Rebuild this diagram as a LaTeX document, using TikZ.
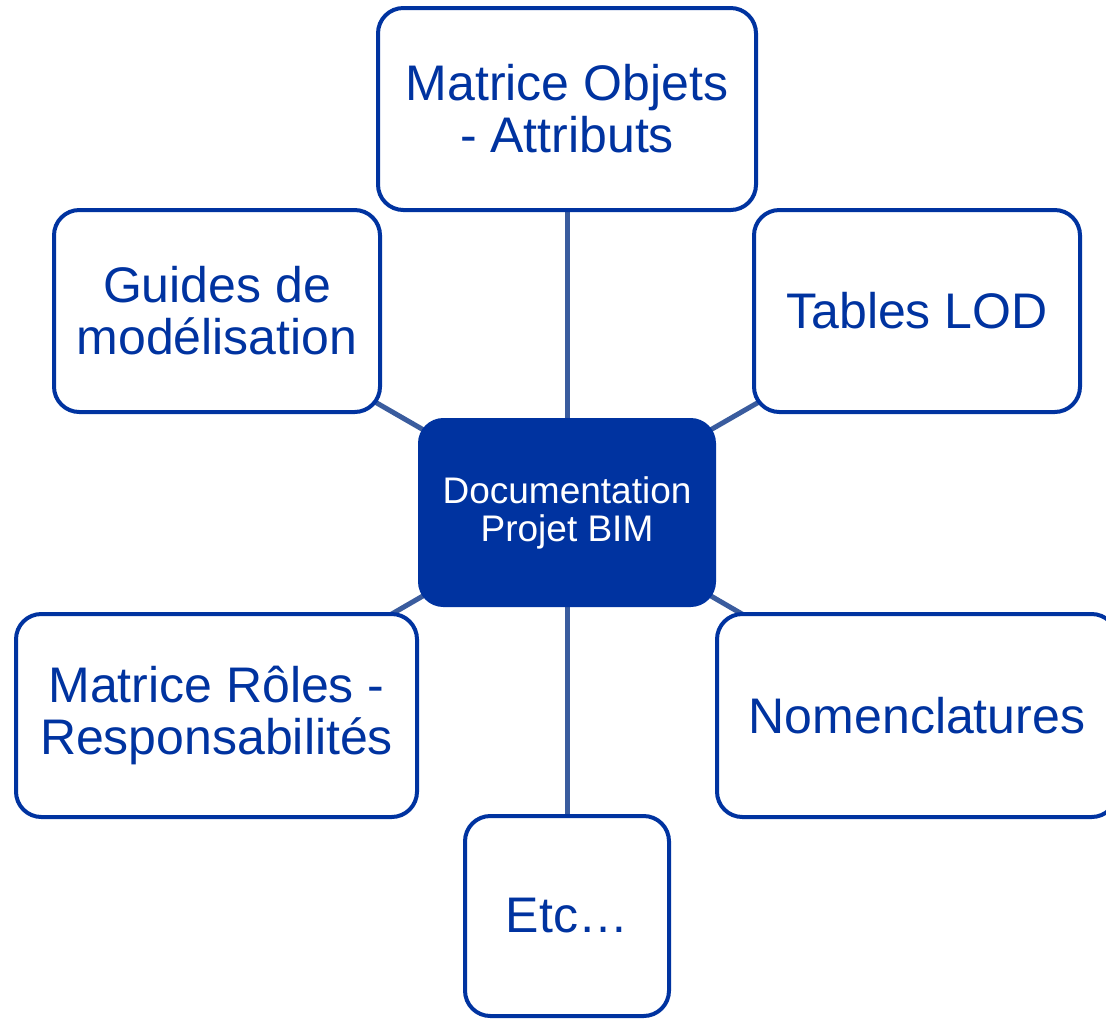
\documentclass[tikz,border=0pt]{standalone}
\usepackage{fontspec}
\setmainfont{Liberation Sans}
\usetikzlibrary{backgrounds}
\definecolor{bimblue}{RGB}{0,51,160}
\definecolor{linkblue}{RGB}{58,92,158}
\tikzset{
  leaf/.style={draw=bimblue, line width=3pt, fill=white, rounded corners=19pt,
    inner sep=0pt, align=center, text=bimblue,
    font=\fontsize{37.5}{39}\selectfont},
  hub/.style={fill=bimblue, rounded corners=19pt, inner sep=0pt, align=center,
    text=white, font=\fontsize{27.75}{28.5}\selectfont},
  link/.style={draw=linkblue, line width=3.75pt}
}
\begin{document}
\begin{tikzpicture}[x=0.75pt, y=-0.75pt]
\useasboundingbox (0,0) rectangle (1106,1018);
\node[hub, minimum width={298*0.75pt}, minimum height={189*0.75pt}] (c) at (567,512.5) {Documentation\\Projet BIM};
\node[leaf, minimum width={378*0.75pt}, minimum height={202*0.75pt}] (top) at (567,109) {Matrice Objets\\- Attributs};
\node[leaf, minimum width={326*0.75pt}, minimum height={202*0.75pt}] (guides) at (217,311) {Guides de\\modélisation};
\node[leaf, minimum width={326*0.75pt}, minimum height={202*0.75pt}] (tables) at (917,311) {Tables LOD};
\node[leaf, minimum width={401*0.75pt}, minimum height={203*0.75pt}] (roles) at (216.5,715.5) {Matrice Rôles -\\Responsabilités};
\node[leaf, minimum width={400*0.75pt}, minimum height={203*0.75pt}] (nomen) at (917,715.5) {Nomenclatures};
\node[leaf, minimum width={204*0.75pt}, minimum height={200*0.75pt}] (etc) at (567,916) {Etc\ldots};
\begin{scope}[on background layer]
\draw[link] (c.center) -- (top.center);
\draw[link] (c.center) -- (guides.center);
\draw[link] (c.center) -- (tables.center);
\draw[link] (c.center) -- (roles.center);
\draw[link] (c.center) -- (nomen.center);
\draw[link] (c.center) -- (etc.center);
\end{scope}
\end{tikzpicture}
\end{document}
